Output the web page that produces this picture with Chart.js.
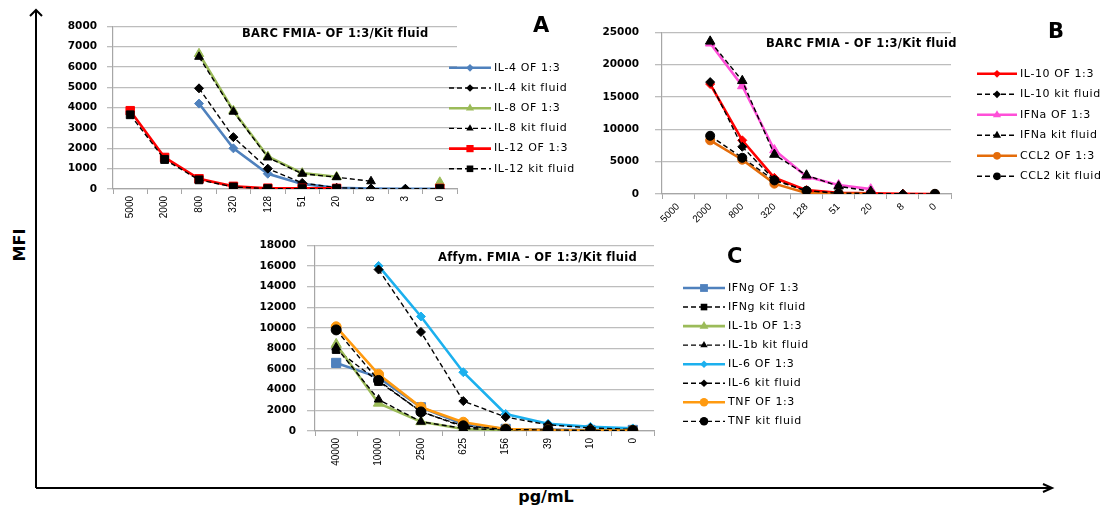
<!DOCTYPE html>
<html>
<head>
<meta charset="utf-8">
<script src="https://cdn.jsdelivr.net/npm/chart.js@4.4.1/dist/chart.umd.min.js"></script>
<style>
  body { margin: 0; background: #fff; }
  #fig { position: relative; width: 1113px; height: 508px; overflow: hidden; font-family: "DejaVu Sans", sans-serif; }
  canvas { position: absolute; }
  .t { position: absolute; font-weight: bold; font-size: 11.5px; line-height: 14px; white-space: nowrap; letter-spacing: 0.3px; }
  .p { position: absolute; font-weight: bold; font-size: 21px; line-height: 24px; }
  .ax { position: absolute; font-weight: bold; font-size: 16px; line-height: 18px; white-space: nowrap; }
</style>
</head>
<body>
<div id="fig">
  <svg width="1113" height="508" style="position:absolute;left:0;top:0">
    <line x1="36" y1="11" x2="36" y2="488" stroke="#000" stroke-width="2"/>
    <polyline points="30,16 36,10 42,16" fill="none" stroke="#000" stroke-width="2"/>
    <line x1="36" y1="488" x2="1052" y2="488" stroke="#000" stroke-width="2"/>
    <polyline points="1043,484 1052,488 1043,492" fill="none" stroke="#000" stroke-width="2"/>
  </svg>
  <canvas id="cA" width="545" height="215" style="left:40px;top:10px"></canvas>
  <canvas id="cB" width="533" height="235" style="left:580px;top:10px"></canvas>
  <canvas id="cC" width="620" height="250" style="left:240px;top:228px"></canvas>
  <div class="t" style="left:242px;top:26px">BARC FMIA- OF 1:3/Kit fluid</div>
  <div class="t" style="left:766px;top:36px">BARC FMIA - OF 1:3/Kit fluid</div>
  <div class="t" style="left:438px;top:250px">Affym. FMIA - OF 1:3/Kit fluid</div>
  <div class="p" style="left:533px;top:13px">A</div>
  <div class="p" style="left:1048px;top:19px">B</div>
  <div class="p" style="left:727px;top:244px">C</div>
  <div class="ax" style="left:20px;top:245px;transform:translate(-50%,-50%) rotate(-90deg)">MFI</div>
  <div class="ax" style="left:546px;top:497px;transform:translate(-50%,-50%)">pg/mL</div>
</div>
<script>
// Panel A - BARC FMIA
const aLabels = ['5000', '2000', '800', '320', '128', '51', '20', '8', '3', '0'];
const aIl4Of   = [null, null, 4200, 2000, 750, 250, 60, 20, 10, 10];
const aIl4Kit  = [null, null, 4950, 2550, 1000, 300, 60, 20, 10, 10];
const aIl8Of   = [null, null, 6650, 3850, 1600, 780, 600, null, null, 330];
const aIl8Kit  = [null, null, 6500, 3800, 1550, 750, 580, 380, null, null];
const aIl12Of  = [3850, 1550, 500, 130, 40, 30, 30, null, null, 30];
const aIl12Kit = [3650, 1450, 450, 100, 20, 20, 20, null, null, 20];

// Panel B - BARC FMIA
const bLabels = ['5000', '2000', '800', '320', '128', '51', '20', '8', '0'];
const bIl10Of  = [null, 17000, 8300, 2500, 600, 200, 100, 50, 0];
const bIl10Kit = [null, 17300, 7300, 2200, 450, 150, 80, 30, 0];
const bIfnaOf  = [null, 23300, 16700, 6800, 2700, 1400, 750, null, null];
const bIfnaKit = [null, 23600, 17500, 6100, 2900, 1200, 400, null, null];
const bCcl2Of  = [null, 8300, 5300, 1600, 150, 50, 30, null, 0];
const bCcl2Kit = [null, 9000, 5600, 2100, 500, 100, 50, null, 30];

// Panel C - Affymetrix FMIA
const cLabels = ['40000', '10000', '2500', '625', '156', '39', '10', '0'];
const cIfngOf  = [6600, 5200, 2300, 650, 200, 150, 100, 100];
const cIfngKit = [7900, 4800, 1900, 400, 150, 100, 50, 50];
const cIl1bOf  = [8400, 2700, 900, 200, 100, 50, 50, 50];
const cIl1bKit = [8100, 3050, 900, 250, 100, 50, 50, 50];
const cIl6Of   = [null, 16000, 11100, 5700, 1650, 700, 400, 250];
const cIl6Kit  = [null, 15650, 9600, 2900, 1350, 600, 300, 150];
const cTnfOf   = [10100, 5500, 2300, 850, 200, 100, 50, 50];
const cTnfKit  = [9800, 4900, 1850, 500, 150, 100, 50, 50];

function ofSet(label, data, color, style, r) {
  return { label, data, borderColor: color, backgroundColor: color, borderWidth: 2.6,
    pointStyle: style, pointRadius: r, pointBorderColor: color, pointBackgroundColor: color, pointBorderWidth: 1 };
}
function kitSet(label, data, style, r) {
  return { label, data, borderColor: '#000', backgroundColor: '#000', borderWidth: 1.4, borderDash: [5, 3],
    pointStyle: style, pointRadius: r, pointBorderColor: '#000', pointBackgroundColor: '#000', pointBorderWidth: 1 };
}

function drawMarker(ctx, style, x, y, r, color) {
  ctx.beginPath();
  if (style === 'circle') {
    ctx.arc(x, y, r, 0, Math.PI * 2);
  } else if (style === 'rect') {
    const s = r * Math.SQRT1_2;
    ctx.rect(x - s, y - s, 2 * s, 2 * s);
  } else if (style === 'rectRot') {
    ctx.moveTo(x, y - r); ctx.lineTo(x + r, y); ctx.lineTo(x, y + r); ctx.lineTo(x - r, y); ctx.closePath();
  } else if (style === 'triangle') {
    ctx.moveTo(x, y - r); ctx.lineTo(x + r * 0.87, y + r * 0.5); ctx.lineTo(x - r * 0.87, y + r * 0.5); ctx.closePath();
  }
  ctx.fillStyle = color;
  ctx.fill();
}

// legend sits to the right, drawn like the Excel one (line + marker)
const sideLegend = {
  id: 'sideLegend',
  afterDraw(chart, args, o) {
    const ctx = chart.ctx;
    ctx.save();
    chart.data.datasets.forEach((d, i) => {
      const y = o.y + i * o.step;
      ctx.beginPath();
      ctx.setLineDash(d.borderDash || []);
      ctx.strokeStyle = d.borderColor;
      ctx.lineWidth = d.borderWidth;
      ctx.moveTo(o.x0, y);
      ctx.lineTo(o.x1, y);
      ctx.stroke();
      ctx.setLineDash([]);
      drawMarker(ctx, d.pointStyle, (o.x0 + o.x1) / 2, y, d.pointRadius * 0.85, d.borderColor);
      ctx.fillStyle = '#000';
      ctx.font = '11px "DejaVu Sans"';
      ctx.textBaseline = 'middle';
      ctx.letterSpacing = '0.6px';
      ctx.fillText(d.label, o.tx, y);
    });
    ctx.restore();
  }
};

function makeChart(id, labels, datasets, c) {
  datasets.forEach((d, i) => { d.order = -i; d.spanGaps = false; d.tension = 0; });
  return new Chart(document.getElementById(id), {
    type: 'line',
    data: { labels, datasets },
    plugins: [sideLegend],
    options: {
      responsive: false,
      animation: false,
      layout: { padding: c.padding },
      plugins: {
        legend: { display: false },
        tooltip: { enabled: false },
        sideLegend: c.legend
      },
      scales: {
        x: {
          offset: true,
          grid: { offset: true, drawOnChartArea: false, drawTicks: true, tickLength: 5, color: '#a6a6a6', lineWidth: 1 },
          border: { color: '#a6a6a6', width: 1.2 },
          ticks: { autoSkip: false, minRotation: c.rot, maxRotation: c.rot, padding: 2, color: '#000',
            font: { family: 'Liberation Sans', size: 10 } },
          afterFit: (s) => { s.height = c.xh; }
        },
        y: {
          min: 0, max: c.max,
          grid: { color: '#bdbdbd', lineWidth: 1.3, tickLength: c.tl },
          border: { color: '#a6a6a6', width: 1.2 },
          ticks: { stepSize: c.step, padding: c.tp, color: '#000',
            callback: (v) => String(v),
            font: { family: 'DejaVu Sans', size: 10.5, weight: 'bold' } },
          afterFit: (s) => { s.width = c.yw; }
        }
      }
    }
  });
}

makeChart('cA', aLabels, [
  ofSet('IL-4 OF 1:3', aIl4Of, '#4F81BD', 'rectRot', 4.5),
  kitSet('IL-4 kit fluid', aIl4Kit, 'rectRot', 4.5),
  ofSet('IL-8 OF 1:3', aIl8Of, '#9BBB59', 'triangle', 5.5),
  kitSet('IL-8 kit fluid', aIl8Kit, 'triangle', 5),
  ofSet('IL-12 OF 1:3', aIl12Of, '#FF0000', 'rect', 6),
  kitSet('IL-12 kit fluid', aIl12Kit, 'rect', 5.5)
], { padding: { left: 0, top: 16, right: 128, bottom: 6 }, xh: 30, yw: 73, rot: 90, max: 8000, step: 1000, tl: 6, tp: 10,
     legend: { x0: 409, x1: 451, tx: 454, y: 57.8, step: 20.2 } });

makeChart('cB', bLabels, [
  ofSet('IL-10 OF 1:3', bIl10Of, '#FF0000', 'rectRot', 4.5),
  kitSet('IL-10 kit fluid', bIl10Kit, 'rectRot', 4.5),
  ofSet('IFNa OF 1:3', bIfnaOf, '#FF4FD8', 'triangle', 5.5),
  kitSet('IFNa kit fluid', bIfnaKit, 'triangle', 5.5),
  ofSet('CCL2 OF 1:3', bCcl2Of, '#E46C0A', 'circle', 4.5),
  kitSet('CCL2 kit fluid', bCcl2Kit, 'circle', 4.5)
], { padding: { left: 0, top: 17, right: 162, bottom: 6 }, xh: 45, yw: 82, rot: 45, max: 25000, step: 5000, tl: 7, tp: 16,
     legend: { x0: 397, x1: 437, tx: 440, y: 63.8, step: 20.5 } });

makeChart('cC', cLabels, [
  ofSet('IFNg OF 1:3', cIfngOf, '#4F81BD', 'rect', 6.5),
  kitSet('IFNg kit fluid', cIfngKit, 'rect', 5.5),
  ofSet('IL-1b OF 1:3', cIl1bOf, '#9BBB59', 'triangle', 6),
  kitSet('IL-1b kit fluid', cIl1bKit, 'triangle', 5),
  ofSet('IL-6 OF 1:3', cIl6Of, '#1CB0EE', 'rectRot', 4.5),
  kitSet('IL-6 kit fluid', cIl6Kit, 'rectRot', 4.5),
  ofSet('TNF OF 1:3', cTnfOf, '#FF9A10', 'circle', 5),
  kitSet('TNF kit fluid', cTnfKit, 'circle', 5)
], { padding: { left: 0, top: 17, right: 206, bottom: 7 }, xh: 40, yw: 75, rot: 90, max: 18000, step: 2000, tl: 8, tp: 11,
     legend: { x0: 443, x1: 485, tx: 488, y: 60, step: 19.05 } });
</script>
</body>
</html>
